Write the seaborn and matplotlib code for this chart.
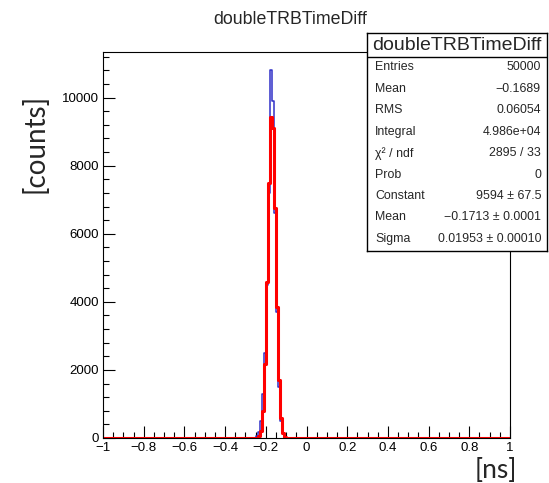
import matplotlib

matplotlib.use("Agg")

import matplotlib.pyplot as plt
import numpy as np
import seaborn as sns
from matplotlib.ticker import MultipleLocator


X_MIN, X_MAX, N_BINS = -1.0, 1.0, 200
PEAK_FIRST_EDGE = -0.26

# bin contents of the measured histogram, bins of 0.01 ns starting at -0.26
HIST_COUNTS = [10, 50, 180, 500, 1300, 2500, 4500, 7200, 10800, 9900,
               6600, 3700, 1500, 500, 160, 40, 10]
# gaussian fit as drawn, same bins
FIT_COUNTS = [1, 8, 47, 219, 787, 2161, 4597, 7500, 9423, 9114,
              6770, 3860, 1700, 578, 151, 30, 5]

TITLE = "doubleTRBTimeDiff"
STATS_LABELS = ["Entries", "Mean", "RMS", "Integral", "χ² / ndf", "Prob",
                "Constant", "Mean", "Sigma"]
STATS_VALUES = ["50000", "\u22120.1689", "0.06054", "4.986e+04", "2895 / 33", "0",
                "9594 ± 67.5", "\u22120.1713 ± 0.0001", "0.01953 ± 0.00010"]

W, H = 549, 483


def tick_fmt(v, pos):
    return f"{round(v, 6):g}".replace("-", "\u2212")


def main():
    sns.set_style("ticks")
    plt.rcParams["font.family"] = ["Liberation Sans", "DejaVu Sans"]

    edges = np.linspace(X_MIN, X_MAX, N_BINS + 1)
    centers = (edges[:-1] + edges[1:]) / 2
    start = int(round((PEAK_FIRST_EDGE - X_MIN) / (edges[1] - edges[0])))
    hist = np.zeros(N_BINS)
    hist[start:start + len(HIST_COUNTS)] = HIST_COUNTS
    fit = np.zeros(N_BINS)
    fit[start:start + len(FIT_COUNTS)] = FIT_COUNTS

    fig = plt.figure(figsize=(W / 100, H / 100), dpi=100)
    ax = fig.add_axes([103 / W, 1 - 438 / H, (510 - 103) / W, (438 - 52) / H])

    sns.histplot(x=centers, weights=hist, bins=N_BINS, binrange=(X_MIN, X_MAX),
                 element="step", fill=False, color="#3030c8", linewidth=1.1, ax=ax)
    sns.lineplot(x=centers, y=fit, color="#ff0000", linewidth=2.2,
                 drawstyle="steps-mid", ax=ax)

    ax.set_xlim(X_MIN, X_MAX)
    ax.set_ylim(0, max(HIST_COUNTS) * 1.05)
    ax.xaxis.set_major_locator(MultipleLocator(0.2))
    ax.xaxis.set_minor_locator(MultipleLocator(0.05))
    ax.yaxis.set_major_locator(MultipleLocator(2000))
    ax.yaxis.set_minor_locator(MultipleLocator(400))
    ax.tick_params(which="both", direction="in", top=False, right=False,
                   labelsize=9.5, color="black", labelcolor="black", width=0.8)
    ax.tick_params(which="major", length=8.5, pad=3)
    ax.tick_params(which="minor", length=4.3)
    ax.xaxis.set_major_formatter(tick_fmt)
    ax.yaxis.set_major_formatter(tick_fmt)
    for s in ax.spines.values():
        s.set_linewidth(0.8)
        s.set_color("black")
    ax.set_xlabel("")
    ax.set_ylabel("")

    label_font = ["Lato", "DejaVu Sans"]
    fig.text(290 / W, 1 - 20 / H, TITLE, ha="center", va="center", fontsize=12.8)
    fig.text(35 / W, 1 - 143 / H, "[counts]", ha="center", va="center",
             rotation=90, fontsize=20, family=label_font)
    fig.text(517 / W, 1 - 470 / H, "[ns]", ha="right", va="center",
             fontsize=19, family=label_font)

    # stats box drawn over the frame
    bx0, bx1, by0, by1 = 367, 547, 33, 251
    box = fig.add_axes([bx0 / W, 1 - by1 / H, (bx1 - bx0) / W, (by1 - by0) / H])
    box.set_xlim(bx0, bx1)
    box.set_ylim(by1, by0)
    box.set_xticks([])
    box.set_yticks([])
    box.set_facecolor("white")
    for s in box.spines.values():
        s.set_linewidth(1.0)
        s.set_color("black")
    box.axhline(57, color="black", linewidth=1.0)
    box.text((bx0 + bx1) / 2, 45, TITLE, ha="center", va="center", fontsize=14)
    for i, (lab, val) in enumerate(zip(STATS_LABELS, STATS_VALUES)):
        y = 67.5 + i * 21.4
        box.text(375, y, lab, ha="left", va="center", fontsize=8.9)
        box.text(541, y, val, ha="right", va="center", fontsize=8.9)

    fig.savefig("out.png", dpi=100)
    plt.close(fig)


if __name__ == "__main__":
    main()
